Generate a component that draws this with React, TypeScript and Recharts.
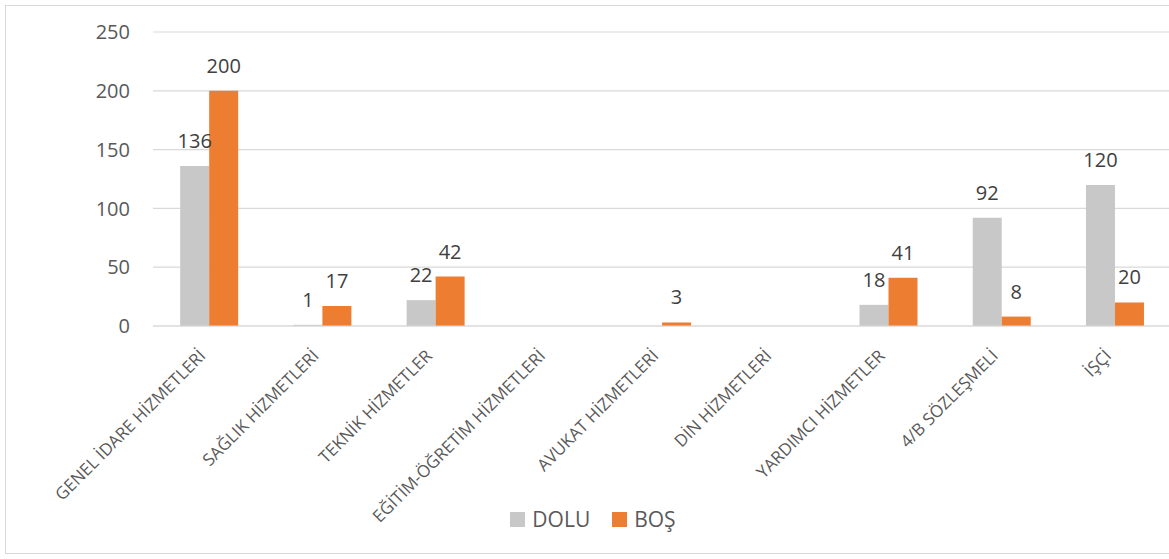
import React from "react"
import { BarChart, Bar, XAxis, YAxis, CartesianGrid, Legend, LabelList } from "recharts"

// kadro kategorileri ve değerler
const categories = [
  "GENEL İDARE HİZMETLERİ",
  "SAĞLIK HİZMETLERİ",
  "TEKNİK HİZMETLER",
  "EĞİTİM-ÖĞRETİM HİZMETLERİ",
  "AVUKAT HİZMETLERİ",
  "DİN HİZMETLERİ",
  "YARDIMCI HİZMETLER",
  "4/B SÖZLEŞMELİ",
  "İŞÇİ",
]
const dolu = [136, 1, 22, null, null, null, 18, 92, 120]
const bos = [200, 17, 42, null, 3, null, 41, 8, 20]
const seriesOrder = ["DOLU", "BOŞ"]
const yTicks = [0, 50, 100, 150, 200, 250]

const data = categories.map((name, i) => ({ name, DOLU: dolu[i], BOŞ: bos[i] }))

const FONT = "'Open Sans', sans-serif"

const CategoryTick = (props: any) => {
  const { x, y, payload } = props
  const tx = x - 3
  const ty = y + 29
  return (
    <text
      x={tx}
      y={ty}
      transform={`rotate(-45, ${tx}, ${ty})`}
      textAnchor="end"
      fill="#595959"
      fontSize={17}
      fontFamily={FONT}
    >
      {payload.value}
    </text>
  )
}

const renderLegend = (props: any) => {
  const payload = [...props.payload].sort(
    (a: any, b: any) => seriesOrder.indexOf(a.value) - seriesOrder.indexOf(b.value)
  )
  return (
    <div style={{ display: "flex", justifyContent: "center", alignItems: "center", height: 30, gap: 22, paddingLeft: 8 }}>
      {payload.map((entry: any) => (
        <span key={entry.value} style={{ display: "flex", alignItems: "center" }}>
          <span style={{ width: 15, height: 15, background: entry.color, marginRight: 7 }} />
          <span style={{ fontSize: 21, color: "#595959", fontFamily: FONT }}>{entry.value}</span>
        </span>
      ))}
    </div>
  )
}

export default function App() {
  return (
    <div style={{ position: "absolute", left: 0, top: 0, width: 1169, height: 559, overflow: "hidden", background: "#fff" }}>
      <div style={{ position: "absolute", left: 5, top: 5, width: 1175, height: 547, border: "1px solid #d9d9d9" }}>
        <BarChart
          width={1175}
          height={547}
          data={data}
          margin={{ top: 26, right: 9, left: 0, bottom: 19 }}
          barCategoryGap="24%"
          barGap={0}
        >
          <CartesianGrid vertical={false} stroke="#d9d9d9" strokeWidth={1.2} />
          <XAxis
            dataKey="name"
            interval={0}
            height={178}
            tickLine={false}
            axisLine={{ stroke: "#d9d9d9" }}
            tickSize={0}
            tick={<CategoryTick />}
          />
          <YAxis
            width={147}
            domain={[0, 250]}
            ticks={yTicks}
            axisLine={false}
            tickLine={false}
            tickSize={8}
            tickMargin={15}
            tick={{ fill: "#595959", fontSize: 20, fontFamily: FONT }}
          />
          <Legend verticalAlign="bottom" content={renderLegend} />
          <Bar dataKey="DOLU" fill="#C8C8C8" isAnimationActive={false}>
            <LabelList dataKey="DOLU" position="top" offset={18} fill="#404040" fontSize={20} fontFamily={FONT} />
          </Bar>
          <Bar dataKey="BOŞ" fill="#ED7D31" isAnimationActive={false}>
            <LabelList dataKey="BOŞ" position="top" offset={18} fill="#404040" fontSize={20} fontFamily={FONT} />
          </Bar>
        </BarChart>
      </div>
    </div>
  )
}
